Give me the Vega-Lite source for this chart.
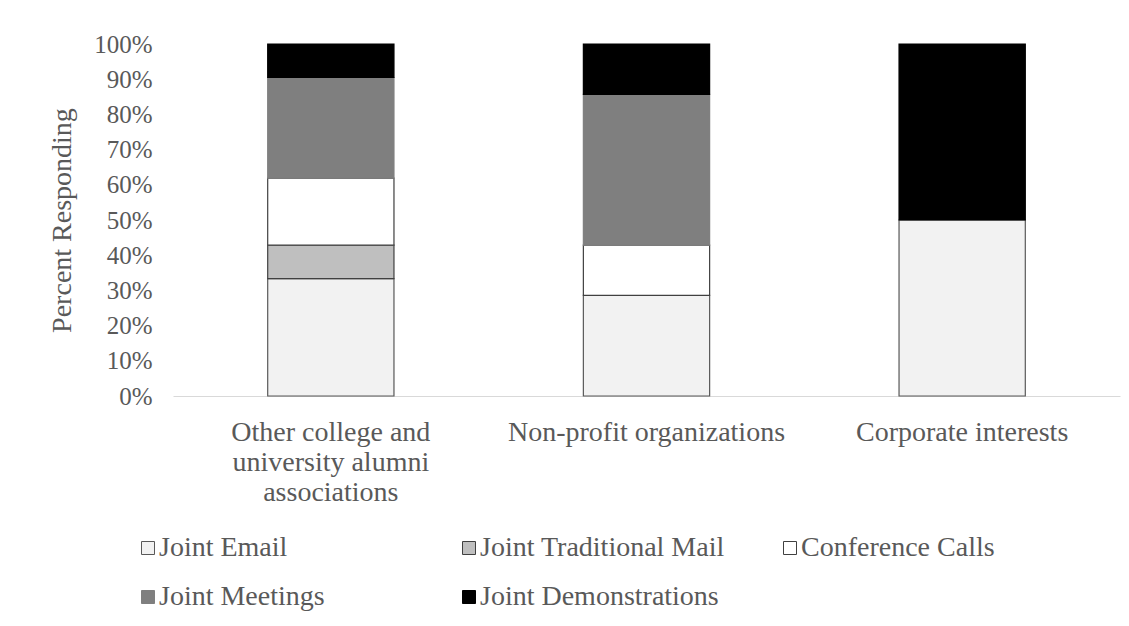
{
  "$schema": "https://vega.github.io/schema/vega-lite/v6.json",
  "autosize": "none",
  "width": 947,
  "height": 352,
  "padding": {"left": 173, "top": 44, "right": 9, "bottom": 230},
  "background": "white",
  "config": {
    "font": "Liberation Serif",
    "view": {"stroke": null}
  },
  "data": {
    "values": [
      {"partner": "Other college and university alumni associations", "method": "Joint Email", "seq": 1, "pct": 33.33},
      {"partner": "Other college and university alumni associations", "method": "Joint Traditional Mail", "seq": 2, "pct": 9.52},
      {"partner": "Other college and university alumni associations", "method": "Conference Calls", "seq": 3, "pct": 19.05},
      {"partner": "Other college and university alumni associations", "method": "Joint Meetings", "seq": 4, "pct": 28.57},
      {"partner": "Other college and university alumni associations", "method": "Joint Demonstrations", "seq": 5, "pct": 9.52},
      {"partner": "Non-profit organizations", "method": "Joint Email", "seq": 1, "pct": 28.57},
      {"partner": "Non-profit organizations", "method": "Conference Calls", "seq": 3, "pct": 14.29},
      {"partner": "Non-profit organizations", "method": "Joint Meetings", "seq": 4, "pct": 42.86},
      {"partner": "Non-profit organizations", "method": "Joint Demonstrations", "seq": 5, "pct": 14.29},
      {"partner": "Corporate interests", "method": "Joint Email", "seq": 1, "pct": 50},
      {"partner": "Corporate interests", "method": "Joint Demonstrations", "seq": 5, "pct": 50}
    ]
  },
  "mark": {"type": "bar", "strokeWidth": 1.2},
  "encoding": {
    "x": {
      "field": "partner",
      "type": "nominal",
      "sort": ["Other college and university alumni associations", "Non-profit organizations", "Corporate interests"],
      "scale": {"paddingInner": 0.6, "paddingOuter": 0.3},
      "axis": {
        "title": null,
        "labelAngle": 0,
        "labelFont": "Liberation Serif",
        "labelFontSize": 28,
        "labelColor": "#595959",
        "labelPadding": 22,
        "labelLineHeight": 30,
        "labelLimit": 400,
        "ticks": false,
        "domainColor": "#d9d9d9",
        "domainWidth": 1,
        "labelExpr": "datum.label == 'Other college and university alumni associations' ? ['Other college and', 'university alumni', 'associations'] : datum.label"
      }
    },
    "y": {
      "field": "pct",
      "type": "quantitative",
      "stack": "normalize",
      "scale": {"domain": [0, 1]},
      "axis": {
        "title": "Percent Responding",
        "titleFontSize": 28,
        "titleFontWeight": "normal",
        "titleColor": "#595959",
        "titlePadding": 17,
        "format": ".0%",
        "values": [0, 0.1, 0.2, 0.3, 0.4, 0.5, 0.6, 0.7, 0.8, 0.9, 1],
        "labelFontSize": 25,
        "labelColor": "#595959",
        "labelPadding": 21,
        "ticks": false,
        "domain": false,
        "grid": false
      }
    },
    "color": {
      "field": "method",
      "type": "nominal",
      "sort": ["Joint Email", "Joint Traditional Mail", "Conference Calls", "Joint Meetings", "Joint Demonstrations"],
      "scale": {
        "domain": ["Joint Email", "Joint Traditional Mail", "Conference Calls", "Joint Meetings", "Joint Demonstrations"],
        "range": ["#f2f2f2", "#bfbfbf", "#ffffff", "#7f7f7f", "#000000"]
      },
      "legend": {
        "title": null,
        "orient": "none",
        "legendX": -39,
        "legendY": 490,
        "direction": "horizontal",
        "columns": 3,
        "gridAlign": "all",
        "columnPadding": 51,
        "rowPadding": 21,
        "symbolType": "square",
        "symbolSize": 169,
        "symbolOffset": 0,
        "symbolStrokeWidth": 1,
        "labelOffset": -3,
        "labelFontSize": 28,
        "labelColor": "#595959",
        "labelLimit": 400
      }
    },
    "stroke": {
      "field": "method",
      "type": "nominal",
      "scale": {
        "domain": ["Joint Email", "Joint Traditional Mail", "Conference Calls", "Joint Meetings", "Joint Demonstrations"],
        "range": ["#595959", "#404040", "#404040", "#7f7f7f", "#000000"]
      },
      "legend": null
    },
    "order": {"field": "seq", "type": "quantitative", "sort": "ascending"}
  }
}
